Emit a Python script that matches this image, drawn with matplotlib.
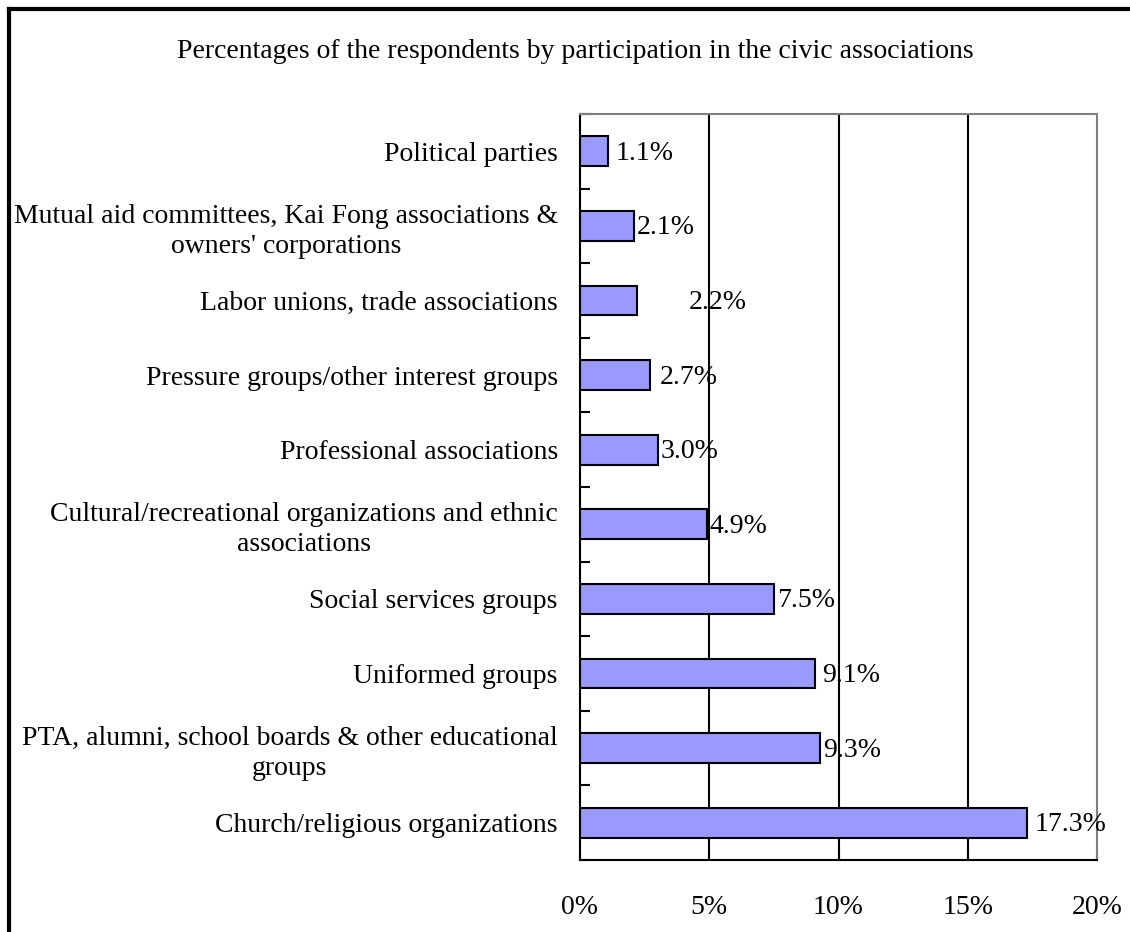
import matplotlib
matplotlib.use("Agg")
import matplotlib.pyplot as plt
from matplotlib.lines import Line2D

categories = [
    "Church/religious organizations",
    "PTA, alumni, school boards & other educational\ngroups",
    "Uniformed groups",
    "Social services groups",
    "Cultural/recreational organizations and ethnic\nassociations",
    "Professional associations",
    "Pressure groups/other interest groups",
    "Labor unions, trade associations",
    "Mutual aid committees, Kai Fong associations &\nowners' corporations",
    "Political parties",
]
values = [17.3, 9.3, 9.1, 7.5, 4.9, 3.0, 2.7, 2.2, 2.1, 1.1]
value_labels = ["17.3%", "9.3%", "9.1%", "7.5%", "4.9%", "3.0%", "2.7%", "2.2%", "2.1%", "1.1%"]
xticks = [0, 5, 10, 15, 20]
xtick_labels = ["0%", "5%", "10%", "15%", "20%"]
title = "Percentages of the respondents by participation in the civic associations"

# label offsets (points) from bar end, as placed in the original
label_offsets = [5, 2, 5, 2, 2, 2, 7, 37, 2, 5]

plt.rcParams['font.family'] = ['Liberation Serif', 'DejaVu Serif']
FS = 20

fig = plt.figure(figsize=(11.3, 9.32), dpi=100)
ax = fig.add_axes([580/1130, 1 - 860/932, (1097-580)/1130, (860-114)/932])

y = list(range(len(categories)))
ax.barh(y, values, height=0.4, color="#9999FF", edgecolor="black", linewidth=1.5, zorder=3)

for yi, v, lab, off in zip(y, values, value_labels, label_offsets):
    ax.annotate(lab, (v, yi), xytext=(off, -1.5), textcoords="offset points",
                ha="left", va="center", fontsize=FS, zorder=4)

ax.set_xlim(0, 20)
ax.set_ylim(-0.5, len(categories) - 0.5)
ax.set_xticks(xticks)
ax.set_xticklabels(xtick_labels, fontsize=FS)
ax.set_yticks(y)
ax.set_yticklabels(categories, fontsize=FS, ha="right", multialignment="center", linespacing=1.25)
ax.tick_params(axis="y", length=0, pad=16)
ax.set_yticks([i - 0.5 for i in range(len(categories) + 1)], minor=True)
ax.tick_params(axis="y", which="minor", direction="in", length=7, width=1.5, color="black")
ax.tick_params(axis="x", direction="in", length=5, width=1.5, pad=25)

for xv in xticks[1:-1]:
    ax.axvline(xv, color="black", linewidth=1.5, zorder=2)

ax.spines["left"].set_linewidth(1.5)
ax.spines["left"].set_color("black")
ax.spines["bottom"].set_linewidth(1.5)
ax.spines["bottom"].set_color("black")
ax.spines["top"].set_linewidth(1.5)
ax.spines["top"].set_color("#808080")
ax.spines["right"].set_linewidth(1.5)
ax.spines["right"].set_color("#808080")

fig.text(575/1130, 1 - 52/932, title, ha="center", va="center", fontsize=FS)

# figure border (left and top)
fig.add_artist(Line2D([9/1130, 9/1130], [0, 1 - 9/932], transform=fig.transFigure, color="black", linewidth=3))
fig.add_artist(Line2D([9/1130, 1], [1 - 9/932, 1 - 9/932], transform=fig.transFigure, color="black", linewidth=3))

fig.savefig("out.png", dpi=100)
